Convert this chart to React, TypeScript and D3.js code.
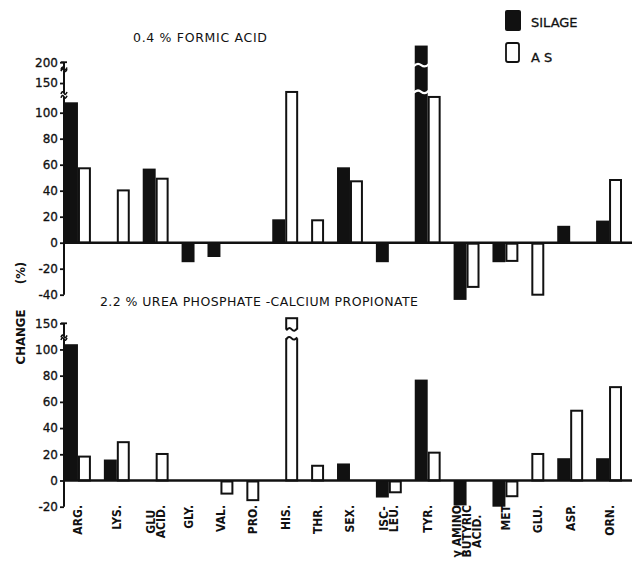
import React, { useEffect, useRef } from "react";
import * as d3 from "d3";

// amino acids along the x axis
const categories = ["ARG", "LYS", "GLU ACID", "GLY", "VAL", "PRO", "HIS", "THR", "SER", "ISO LEU", "TYR", "GABA", "MET", "GLU", "ASP", "ORN"];
const labelLines = [["ARG."], ["LYS."], ["GLU", "ACID."], ["GLY."], ["VAL."], ["PRO."], ["HIS."], ["THR."], ["SEX."], ["ISC-", "LEU."], ["TYR."], ["γ AMINO", "BUTYRIC", "ACID."], ["MET"], ["GLU."], ["ASP."], ["ORN."]];

// change (%) — null means no bar drawn
const silageTop = [108, null, 57, -15, -11, null, 18, null, 58, -15, 240, -44, -15, null, 13, 17];
const asTop = [58, 41, 50, null, null, null, 131, 18, 48, null, 119, -34, -14, -40, null, 49];
const silageBottom = [104, 16, null, null, null, null, null, null, 13, -13, 77, -19, -20, null, 17, 17];
const asBottom = [19, 30, 21, null, -10, -15, 164, 12, null, -9, 22, null, -12, 21, 54, 72];

const topTicks = [-40, -20, 0, 20, 40, 60, 80, 100, 150, 200];
const bottomTicks = [-20, 0, 20, 40, 60, 80, 100, 150];

const topTitle = "0.4 % FORMIC ACID";
const bottomTitle = "2.2 % UREA PHOSPHATE -CALCIUM PROPIONATE";
const legendLabels = ["SILAGE", "A S"];

const INK = "#111";
const FONT = "'DejaVu Sans Condensed', 'DejaVu Sans', sans-serif";
const WIDE = "'DejaVu Sans', sans-serif";

export default function App() {
  const ref = useRef<SVGSVGElement>(null);

  useEffect(() => {
    const svg = d3.select(ref.current);
    svg.selectAll("*").remove();

    // slots: a category only takes room for the series it actually has
    const hasSil = categories.map((c, i) => silageTop[i] != null || silageBottom[i] != null);
    const hasAs = categories.map((c, i) => asTop[i] != null || asBottom[i] != null);
    let pos = 0;
    const silSlot: (number | null)[] = [];
    const asSlot: (number | null)[] = [];
    categories.forEach((c, i) => {
      silSlot.push(hasSil[i] ? pos++ : null);
      asSlot.push(hasAs[i] ? pos++ : null);
      pos++;
    });
    const slotCount = pos - 1;
    const x = d3.scaleLinear().domain([0, slotCount]).range([65, 622]);
    const bw = x(1) - x(0);
    const axisX = 64;

    const yTop = d3.scaleLinear().domain([-40, 110, 250]).range([294.7, 99.7, 41.4]);
    const yBot = d3.scaleLinear().domain([-20, 105, 170]).range([506.7, 342.9, 314.6]);

    const tilde = (cx: number, cy: number, w: number) =>
      `M${cx - w},${cy + 1} Q${cx - w / 2},${cy - 3} ${cx},${cy} T${cx + w},${cy - 1}`;

    function panel(y: d3.ScaleLinear<number, number>, sil: (number | null)[], as: (number | null)[], ticks: number[],
                   axisSegs: number[][], axisMax: number, barGap: number[]) {
      const g = svg.append("g");

      // bars
      categories.forEach((c, i) => {
        const s = sil[i];
        if (s != null && silSlot[i] != null) {
          const x0 = x(silSlot[i] as number);
          g.append("rect").attr("x", x0).attr("width", bw)
            .attr("y", y(Math.max(0, s))).attr("height", Math.abs(y(s) - y(0)))
            .attr("fill", INK);
          if (s > axisMax) {
            barGap.forEach(v => {
              g.append("path").attr("d", tilde(x0 + bw / 2, y(v), bw / 2 + 1))
                .attr("fill", "none").attr("stroke", "#fff").attr("stroke-width", 2.2);
            });
          }
        }
        const a = as[i];
        if (a != null && asSlot[i] != null) {
          const x0 = x(asSlot[i] as number);
          g.append("rect").attr("x", x0 + 1).attr("width", bw - 2)
            .attr("y", y(Math.max(0, a)) + 1).attr("height", Math.max(0, Math.abs(y(a) - y(0)) - 1))
            .attr("fill", "#fff").attr("stroke", INK).attr("stroke-width", 2);
          if (a > axisMax) {
            g.append("rect").attr("x", x0 - 1).attr("width", bw + 2)
              .attr("y", y(barGap[1])).attr("height", y(barGap[0]) - y(barGap[1]))
              .attr("fill", "#fff");
            barGap.forEach(v => {
              g.append("path").attr("d", tilde(x0 + bw / 2, y(v), bw / 2 - 1))
                .attr("fill", "none").attr("stroke", INK).attr("stroke-width", 2);
            });
          }
        }
      });

      // zero line
      g.append("line").attr("x1", axisX).attr("x2", 632).attr("y1", y(0)).attr("y2", y(0))
        .attr("stroke", INK).attr("stroke-width", 2.5);

      // broken y axis
      axisSegs.forEach((seg, k) => {
        g.append("line").attr("x1", axisX).attr("x2", axisX).attr("y1", y(seg[0])).attr("y2", y(seg[1]))
          .attr("stroke", INK).attr("stroke-width", 2);
        if (k < axisSegs.length - 1) {
          g.append("path").attr("d", tilde(axisX, y(seg[1]), 3)).attr("fill", "none").attr("stroke", INK).attr("stroke-width", 1.6);
          g.append("path").attr("d", tilde(axisX, y(axisSegs[k + 1][0]), 3)).attr("fill", "none").attr("stroke", INK).attr("stroke-width", 1.6);
        }
      });
      const last = axisSegs[axisSegs.length - 1];
      g.append("line").attr("x1", axisX - 3).attr("x2", axisX + 3).attr("y1", y(last[1])).attr("y2", y(last[1]))
        .attr("stroke", INK).attr("stroke-width", 1.8);

      const axis = d3.axisLeft(y).tickValues(ticks).tickSize(4).tickPadding(2).tickFormat(d => String(d));
      const ag = g.append("g").attr("transform", `translate(${axisX},0)`).call(axis);
      ag.select(".domain").remove();
      ag.selectAll("line").attr("stroke", INK).attr("stroke-width", 1.8);
      ag.selectAll("text").attr("fill", INK).style("font-family", WIDE).style("font-size", "12px")
        .style("stroke", INK).style("stroke-width", 0.3);
    }

    panel(yTop, silageTop, asTop, topTicks, [[-40, 117], [126, 181], [185, 200]], 200, [129, 193]);
    panel(yBot, silageBottom, asBottom, bottomTicks, [[-20, 114], [120, 150]], 150, [115.5, 136]);

    // category labels, rotated under the lower panel
    categories.forEach((c, i) => {
      const start = (silSlot[i] ?? asSlot[i]) as number;
      const end = ((asSlot[i] ?? silSlot[i]) as number) + 1;
      const cx = x((start + end) / 2);
      const lines = labelLines[i];
      const lg = svg.append("g").attr("transform", `translate(${cx},505) rotate(-90)`);
      const texts = lines.map((t, j) =>
        lg.append("text").text(t)
          .attr("y", (j - (lines.length - 1) / 2) * 10 + 4.5)
          .attr("fill", INK).style("font-family", FONT).style("font-weight", "bold").style("font-size", "12px"));
      if (lines.length === 1) {
        texts[0].attr("x", 0).attr("text-anchor", "end");
      } else {
        const maxLen = d3.max(texts, t => (t.node() as SVGTextElement).getComputedTextLength()) || 0;
        texts.forEach(t => t.attr("x", -maxLen / 2).attr("text-anchor", "middle"));
      }
    });

    // titles
    svg.append("text").attr("x", 133).attr("y", 42).text(topTitle)
      .attr("textLength", 134).attr("lengthAdjust", "spacing")
      .attr("fill", INK).style("font-family", WIDE).style("font-size", "12.5px");
    svg.append("text").attr("x", 100).attr("y", 306).text(bottomTitle)
      .attr("textLength", 318).attr("lengthAdjust", "spacing")
      .attr("fill", INK).style("font-family", WIDE).style("font-size", "12.5px");

    // y label
    svg.append("text").attr("transform", "translate(25,337) rotate(-90)").attr("text-anchor", "middle")
      .text("CHANGE").attr("fill", INK).style("font-family", FONT).style("font-weight", "bold").style("font-size", "13px");
    svg.append("text").attr("transform", "translate(25,273) rotate(-90)").attr("text-anchor", "middle")
      .text("(%)").attr("fill", INK).style("font-family", FONT).style("font-weight", "bold").style("font-size", "13px");

    // legend
    svg.append("rect").attr("x", 505).attr("y", 10).attr("width", 16).attr("height", 21).attr("rx", 2).attr("fill", INK);
    svg.append("rect").attr("x", 506).attr("y", 43).attr("width", 13).attr("height", 19).attr("rx", 2)
      .attr("fill", "#fff").attr("stroke", INK).attr("stroke-width", 1.8);
    svg.append("text").attr("x", 531).attr("y", 27).text(legendLabels[0])
      .attr("fill", INK).style("font-family", WIDE).style("font-size", "13px").style("stroke", INK).style("stroke-width", 0.3);
    svg.append("text").attr("x", 531).attr("y", 62).text(legendLabels[1])
      .attr("fill", INK).style("font-family", WIDE).style("font-size", "13px").style("stroke", INK).style("stroke-width", 0.3);
  }, []);

  return <svg ref={ref} width={632} height={566} style={{ position: "absolute", left: 0, top: 0, background: "#fff" }} />;
}
